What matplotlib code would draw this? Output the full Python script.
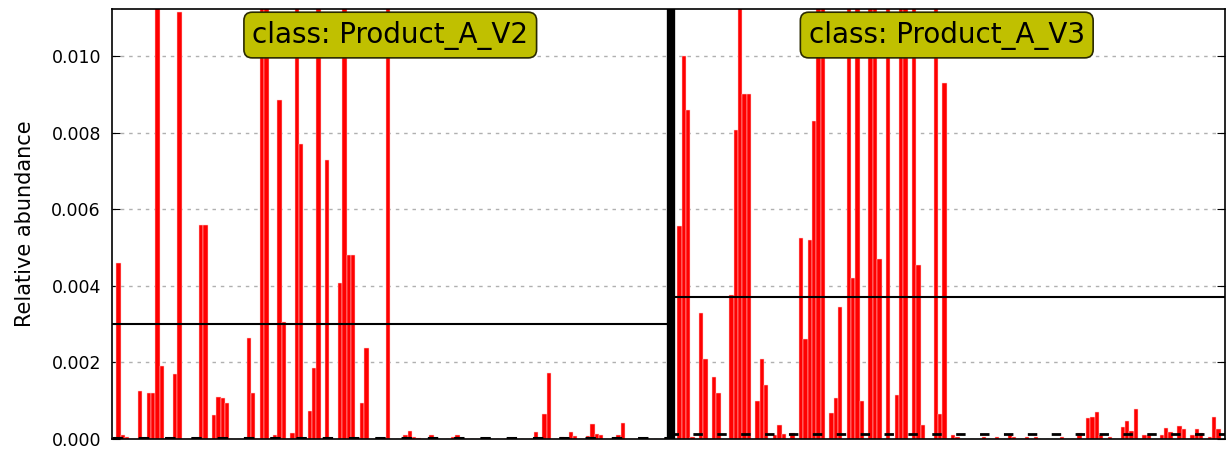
import matplotlib
matplotlib.use('Agg')
import matplotlib.pyplot as plt
from matplotlib.ticker import FormatStrFormatter
import numpy as np

# relative abundance per sample (values above the axis top are clipped in the picture)
class_names = ['Product_A_V2', 'Product_A_V3']

abund_v2 = [
    0, 0.0046, 0.0001, 0.00005, 0, 0, 0.00125, 0, 0.0012, 0.0012, 0.02, 0.0019, 0, 0, 0.0017, 0.01115,
    0, 0, 0, 0, 0.0056, 0.0056, 0, 0.00063, 0.0011, 0.00107, 0.00095, 0, 0, 0, 0, 0.00263,
    0.00121, 0, 0.02, 0.02, 0, 0.0001, 0.00885, 0.00305, 0, 0.00016, 0.02, 0.0077, 0, 0.00073, 0.00185, 0.02,
    0, 0.00728, 0, 0, 0.00408, 0.02, 0.0048, 0.0048, 0, 0.00095, 0.00237, 0, 0, 0, 0, 0.02,
    0, 0, 0, 0.0001, 0.00022, 0.00005, 0.00003, 0, 0, 0.0001, 0, 0, 0, 0, 0.00005, 0.0001,
    0, 0, 0, 0, 0, 0, 0, 0, 0, 0, 0, 0, 0, 0, 0, 0,
    0, 0.00017, 0, 0.00065, 0.00173, 0, 0, 0.00006, 0, 0.00018, 0.00008, 0, 0, 0.00008, 0.00038, 0.00012,
    0.0001, 0, 0, 0, 0.0001, 0.00043, 0, 0, 0, 0.00003, 0.00003, 0, 0, 0, 0, 0,
]

abund_v3 = [
    0, 0, 0.00555, 0.0100, 0.0086, 0.00005, 0, 0.0033, 0.0021, 0, 0.00163, 0.0012, 0, 0, 0.00376, 0.00807,
    0.02, 0.0090, 0.0090, 0, 0.0010, 0.0021, 0.0014, 0, 0.0001, 0.00037, 0.00013, 0, 0.00015, 0, 0.00525, 0.0026,
    0.0052, 0.0083, 0.02, 0.02, 0, 0.00069, 0.00107, 0.00345, 0, 0.02, 0.0042, 0.02, 0.0010, 0, 0.02, 0.02,
    0.0047, 0, 0.02, 0, 0.00115, 0.02, 0.02, 0, 0.02, 0.00455, 0.00037, 0, 0, 0.02, 0.00065, 0.0093,
    0, 0.0001, 0.00005, 0, 0, 0, 0, 0, 0.00005, 0, 0, 0.00005, 0, 0, 0.0001, 0.00005,
    0, 0, 0.00005, 0, 0.00005, 0, 0, 0, 0, 0, 0.00005, 0, 0, 0, 0.00015, 0,
    0.00055, 0.00058, 0.0007, 0.0001, 0, 0.00005, 0, 0, 0.00032, 0.00048, 0.00022, 0.00078, 0, 0.0001, 0.0001, 0,
    0, 0.0001, 0.0003, 0.00018, 0, 0.00035, 0.00025, 0, 0.0001, 0.00025, 0.00015, 0, 0.00005, 0.00058, 0.00025, 0,
]

class_mean = [0.0030, 0.00372]
class_median = [0.00002, 0.00014]

y_top = 0.01123

fig = plt.figure(figsize=(12.28, 4.5), dpi=100)
ax = fig.add_axes([112 / 1228, 1 - 439 / 450, 1113 / 1228, 430 / 450])

n1 = len(abund_v2)
n2 = len(abund_v3)
x1 = np.arange(n1)
x2 = np.arange(n1, n1 + n2)

ax.bar(x1, abund_v2, width=1.0, color='#ff0000', edgecolor='#ffd0d0', linewidth=0.35, zorder=2)
ax.bar(x2, abund_v3, width=1.0, color='#ff0000', edgecolor='#ffd0d0', linewidth=0.35, zorder=2)

# mean (solid) and median (dashed) per class
ax.plot([-0.5, n1 - 0.5], [class_mean[0]] * 2, color='black', lw=1.5, zorder=3)
ax.plot([n1 - 0.5, n1 + n2 - 0.5], [class_mean[1]] * 2, color='black', lw=1.5, zorder=3)
ax.plot([-0.5, n1 - 0.5], [class_median[0]] * 2, color='black', lw=2.2,
        linestyle=(0, (3.4, 5.2)), zorder=3)
ax.plot([n1 - 0.5, n1 + n2 - 0.5], [class_median[1]] * 2, color='black', lw=2.0,
        linestyle=(0, (3.4, 5.2)), zorder=3)

# class separator
ax.axvline(n1, color='black', lw=6, zorder=4)

box = dict(boxstyle='round,pad=0.3', facecolor='#c0c000', edgecolor='#2a2a00', lw=1.2)
ax.text((n1 - 1) / 2, 0.01055, 'class: ' + class_names[0], ha='center', va='center',
        fontsize=20, bbox=box, zorder=5)
ax.text(n1 + (n2 - 1) / 2, 0.01055, 'class: ' + class_names[1], ha='center', va='center',
        fontsize=20, bbox=box, zorder=5)

ax.set_xlim(-0.5, n1 + n2 - 0.5)
ax.set_ylim(0, y_top)
ax.set_xticks([])
ax.set_yticks(np.arange(0, 0.0101, 0.002))
ax.yaxis.set_major_formatter(FormatStrFormatter('%.3f'))
ax.tick_params(axis='y', direction='in', right=True, length=6, labelsize=12.5, pad=8)
ax.yaxis.grid(True, linestyle=(0, (2.5, 3.5)), color='#b0b0b0', lw=1, zorder=0)
ax.set_axisbelow(True)
ax.set_ylabel('Relative abundance', fontsize=15, labelpad=12)
for s in ax.spines.values():
    s.set_linewidth(1.2)

fig.savefig('out.png', dpi=100)
